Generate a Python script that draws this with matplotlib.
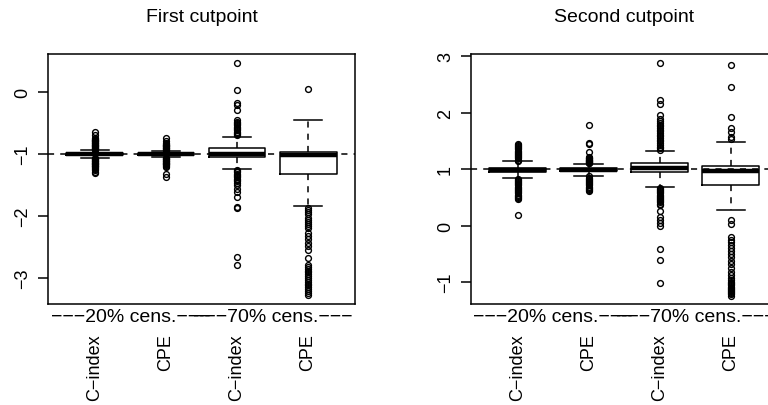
import matplotlib
matplotlib.use("Agg")
import matplotlib.pyplot as plt
import matplotlib.transforms as mtransforms

plt.rcParams['font.family'] = ['Liberation Sans', 'DejaVu Sans']

titles = ["First cutpoint", "Second cutpoint"]
box_names = ["C\u2212index", "CPE", "C\u2212index", "CPE"]
group_names = ["\u2212\u2212\u221220% cens.\u2212\u2212\u2212", "\u2212\u2212\u221270% cens.\u2212\u2212\u2212"]
ref_lines = [-1.0, 1.0]

# first cutpoint: [whislo, q1, med, q3, whishi]
first_stats = [
    [-1.06, -1.02, -1.00, -0.98, -0.94],
    [-1.05, -1.02, -1.00, -0.98, -0.95],
    [-1.25, -1.05, -1.00, -0.90, -0.72],
    [-1.84, -1.32, -1.02, -0.97, -0.45],
]
first_fliers = [
    [-0.93, -0.92, -0.91, -0.90, -0.89, -0.88, -0.87, -0.86, -0.85, -0.84, -0.83,
     -0.82, -0.81, -0.80, -0.79, -0.78, -0.77, -0.76, -0.75, -0.70, -0.64,
     -1.07, -1.08, -1.09, -1.10, -1.11, -1.12, -1.13, -1.14, -1.15, -1.16, -1.17,
     -1.18, -1.19, -1.20, -1.21, -1.22, -1.24, -1.26, -1.29, -1.31],
    [-0.94, -0.93, -0.92, -0.91, -0.90, -0.89, -0.88, -0.87, -0.86, -0.85, -0.84,
     -0.83, -0.80, -0.74,
     -1.06, -1.07, -1.08, -1.09, -1.10, -1.11, -1.12, -1.13, -1.14, -1.15, -1.16,
     -1.17, -1.18, -1.19, -1.21, -1.33, -1.37],
    [0.46, 0.03, -0.18, -0.21, -0.30, -0.46, -0.48, -0.50, -0.52, -0.54, -0.56,
     -0.58, -0.60, -0.62, -0.64, -0.66, -0.68, -0.70,
     -1.26, -1.28, -1.30, -1.32, -1.34, -1.36, -1.38, -1.40, -1.42, -1.44, -1.47,
     -1.50, -1.56, -1.61, -1.69, -1.85, -1.87, -2.67, -2.79],
    [0.05,
     -1.88, -1.90, -1.93, -1.97, -2.04, -2.07, -2.10, -2.13, -2.16, -2.20, -2.28,
     -2.33, -2.38, -2.43, -2.48, -2.55, -2.68, -2.79, -2.82, -2.85, -2.88, -2.91,
     -2.94, -2.97, -3.00, -3.03, -3.06, -3.09, -3.12, -3.15, -3.18, -3.21, -3.24,
     -3.27],
]

# second cutpoint
second_stats = [
    [0.84, 0.955, 0.985, 1.02, 1.14],
    [0.88, 0.96, 0.99, 1.02, 1.09],
    [0.68, 0.947, 1.02, 1.10, 1.33],
    [0.27, 0.72, 0.965, 1.05, 1.48],
]
second_fliers = [
    [1.15, 1.17, 1.19, 1.21, 1.23, 1.25, 1.27, 1.29, 1.31, 1.33, 1.35, 1.37, 1.39,
     1.41, 1.43, 1.45,
     0.83, 0.81, 0.79, 0.77, 0.75, 0.73, 0.71, 0.69, 0.67, 0.65, 0.63, 0.61, 0.59,
     0.57, 0.55, 0.53, 0.51, 0.49, 0.47, 0.19],
    [1.10, 1.11, 1.12, 1.13, 1.14, 1.15, 1.16, 1.17, 1.18, 1.19, 1.20, 1.22, 1.31,
     1.45, 1.46, 1.79,
     0.87, 0.85, 0.83, 0.81, 0.79, 0.77, 0.75, 0.73, 0.71, 0.69, 0.67, 0.65, 0.63,
     0.62],
    [1.34, 1.37, 1.40, 1.43, 1.46, 1.49, 1.52, 1.55, 1.58, 1.61, 1.64, 1.67, 1.70,
     1.73, 1.76, 1.79, 1.82, 1.85, 1.88, 1.96, 2.16, 2.22, 2.88,
     0.67, 0.65, 0.63, 0.61, 0.59, 0.57, 0.55, 0.53, 0.51, 0.49, 0.47, 0.45, 0.43,
     0.41, 0.39, 0.37, 0.26, 0.15, 0.10, 0.04, 0.00, -0.41, -0.61, -1.01],
    [1.53, 1.57, 1.65, 1.72, 1.92, 2.45, 2.85,
     0.10, 0.02, -0.20, -0.25, -0.30, -0.35, -0.40, -0.45, -0.50, -0.55, -0.62,
     -0.68, -0.75, -0.82, -0.88, -0.93, -0.97, -1.00, -1.02, -1.04, -1.06, -1.08,
     -1.10, -1.12, -1.14, -1.16, -1.18, -1.20, -1.22, -1.24],
]

ylims = [(-3.42, 0.61), (-1.39, 3.04)]
yticks = [[0, -1, -2, -3], [3, 2, 1, 0, -1]]


def to_bxp(stats, fliers):
    out = []
    for s, f in zip(stats, fliers):
        out.append(dict(whislo=s[0], q1=s[1], med=s[2], q3=s[3], whishi=s[4], fliers=f))
    return out


fig = plt.figure(figsize=(7.68, 4.06), dpi=100)
W, H = 768.0, 406.0
ax_w, ax_h = 307.0, 250.0
lefts = [48.0, 470.7]
bottom = H - 305.0

panels = [(first_stats, first_fliers), (second_stats, second_fliers)]
for i, (stats, fliers) in enumerate(panels):
    ax = fig.add_axes([lefts[i] / W, bottom / H, ax_w / W, ax_h / H])
    ax.axhline(ref_lines[i], color='black', lw=1.1, linestyle=(0, (4, 4)), zorder=1)
    ax.bxp(to_bxp(stats, fliers), positions=[1, 2, 3, 4], widths=0.8, capwidths=0.4,
           showfliers=True, patch_artist=False,
           boxprops=dict(color='black', lw=1.1),
           medianprops=dict(color='black', lw=3.2, solid_capstyle='butt'),
           whiskerprops=dict(color='black', lw=1.1, linestyle=(0, (4, 4))),
           capprops=dict(color='black', lw=1.1),
           flierprops=dict(marker='o', markerfacecolor='none', markeredgecolor='black',
                           markersize=4.2, markeredgewidth=1.0))
    ax.set_xlim(0.34, 4.66)
    ax.set_ylim(*ylims[i])
    for sp in ax.spines.values():
        sp.set_linewidth(1.1)
    ax.set_yticks(yticks[i])
    ax.set_yticklabels([str(t).replace('-', '\u2212') for t in yticks[i]],
                       rotation=90, va='center', fontsize=13)
    ax.tick_params(axis='y', length=7, width=1.1, pad=5)
    ax.set_xticks([1, 2, 3, 4])
    ax.set_xticklabels(box_names, rotation=90, va='top', ha='center', fontsize=13)
    ax.tick_params(axis='x', length=0, pad=21)

    trans = mtransforms.blended_transform_factory(ax.transData, ax.transAxes)
    for j, g in enumerate(group_names):
        ax.text(1.5 + 2 * j, -13.0 / ax_h, g, transform=trans, ha='center',
                va='center', fontsize=14, clip_on=False)
    ax.text(0.5, 1 + 38.0 / ax_h, titles[i], transform=ax.transAxes, ha='center',
            va='center', fontsize=14)

fig.savefig('out.png', dpi=100)
